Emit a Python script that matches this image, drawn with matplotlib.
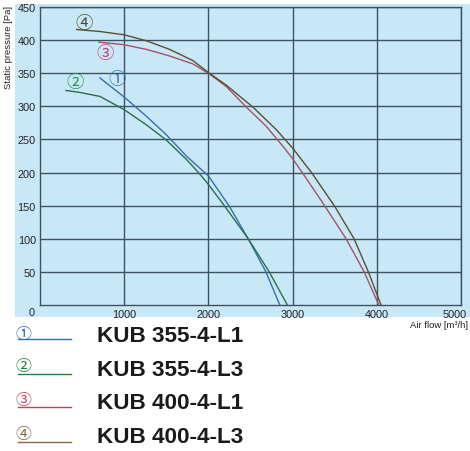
import matplotlib
matplotlib.use('Agg')
import matplotlib.pyplot as plt
from matplotlib.patches import Rectangle
from matplotlib.transforms import ScaledTranslation

# fan curves: air flow [m3/h] -> static pressure [Pa]
flow_1 = [711, 1000, 1264, 1501, 1738, 2000, 2249, 2473, 2683, 2848]
pres_1 = [343, 314, 285, 257, 225, 195, 149, 100, 50, 0]

flow_2 = [308, 474, 711, 1000, 1264, 1501, 1738, 1896, 2000, 2189, 2473, 2722, 2938]
pres_2 = [324, 321, 315, 295, 272, 249, 220, 198, 182, 150, 100, 50, 0]

flow_3 = [697, 1000, 1264, 1540, 1817, 2000, 2212, 2449, 2686, 2883, 3000,
          3115, 3380, 3635, 3850, 4024]
pres_3 = [397, 393, 386, 376, 364, 350, 330, 299, 270, 240, 221,
          200, 150, 100, 50, 0]

flow_4 = [435, 711, 1000, 1264, 1540, 1817, 2000, 2212, 2527, 2805, 3000,
          3230, 3500, 3730, 3900, 4050]
pres_4 = [416, 413, 408, 399, 386, 369, 351, 332, 299, 265, 237,
          199, 149, 100, 50, 0]

labels = ['KUB 355-4-L1', 'KUB 355-4-L3', 'KUB 400-4-L1', 'KUB 400-4-L3']
marks = ['\u2460', '\u2461', '\u2462', '\u2463']
mark_pos = [(911, 342), (414, 336), (769, 380), (521, 426)]

x_ticks = [1000, 2000, 3000, 4000, 5000]
y_ticks = [50, 100, 150, 200, 250, 300, 350, 400, 450]

curve_colors = ['#3a6cb2', '#2a6e4a', '#a8506a', '#5a5030']
mark_colors = ['#3070c0', '#2a9050', '#c04070', '#4a4a30']
legend_colors = ['#2f6fb5', '#1d8040', '#c0405a', '#8a6a40']
bg = '#c8e8f8'
grid_c = '#3d5260'

W, H = 470, 452
fig = plt.figure(figsize=(W / 100, H / 100), dpi=100)
fig.patches.append(Rectangle((15 / W, 1 - 318 / H), 455 / W, 313 / H,
                             transform=fig.transFigure, facecolor=bg,
                             edgecolor='none', zorder=-5))

ax = fig.add_axes([40 / W, 1 - 306 / H, 421 / W, 298 / H])
ax.set_zorder(2)
ax.set_facecolor(bg)
ax.set_xlim(0, 5000)
ax.set_ylim(0, 450)
ax.set_xticks(x_ticks)
ax.set_yticks(y_ticks)
ax.set_xticklabels([str(t) for t in x_ticks])
ax.set_yticklabels([str(t) for t in y_ticks])
ax.tick_params(length=0, labelsize=7.8, labelcolor='#222222', pad=3)
for lab in ax.get_xticklabels() + ax.get_yticklabels():
    lab.set_family('Liberation Sans')
last = ax.get_xticklabels()[-1]
last.set_horizontalalignment('right')
last.set_transform(last.get_transform() + ScaledTranslation(6 / 100, 0, fig.dpi_scale_trans))
ax.grid(True, color=grid_c, linewidth=1.0)
for s in ax.spines.values():
    s.set_color(grid_c)
    s.set_linewidth(1.0)
ax.text(-0.019, -0.022, '0', transform=ax.transAxes, ha='center', va='center',
        fontsize=7.8, family='Liberation Sans', color='#222222')

flows = [flow_1, flow_2, flow_3, flow_4]
press = [pres_1, pres_2, pres_3, pres_4]
for f, p, c in zip(flows, press, curve_colors):
    ax.plot(f, p, color=c, linewidth=1.0, zorder=3, solid_joinstyle='round')

for m, (mx, my), c in zip(marks, mark_pos, mark_colors):
    ax.text(mx, my, m, color=c, fontsize=12.5, ha='center', va='center',
            family=['Noto Sans CJK JP', 'DejaVu Sans'], zorder=4)

fig.text(9 / W, 1 - 48 / H, 'Static pressure [Pa]', rotation=90, ha='center',
         va='center', fontsize=6.8, family='Liberation Sans', color='#222222')
fig.text(468 / W, 1 - 326 / H, 'Air flow [m\u00b3/h]', ha='right', va='center',
         fontsize=6.8, family='Liberation Sans', color='#222222')

# legend rows below the chart
row_y = [337, 370, 404, 438]
line_y = [340, 375, 408, 443]
for m, lab, c, ly, ty in zip(marks, labels, legend_colors, line_y, row_y):
    fig.add_artist(plt.Line2D([18 / W, 71 / W], [1 - ly / H, 1 - ly / H],
                              color=c, linewidth=1.0, transform=fig.transFigure))
    fig.text(23 / W, 1 - (ty - 3) / H, m, color=c, fontsize=11.5, ha='center',
             va='center', family=['Noto Sans CJK JP', 'DejaVu Sans'])
    fig.text(97 / W, 1 - ty / H, lab, fontsize=16.2, fontweight='bold',
             ha='left', va='center', family='Liberation Sans', color='#1a1a1a')

fig.savefig('out.png', dpi=100)
